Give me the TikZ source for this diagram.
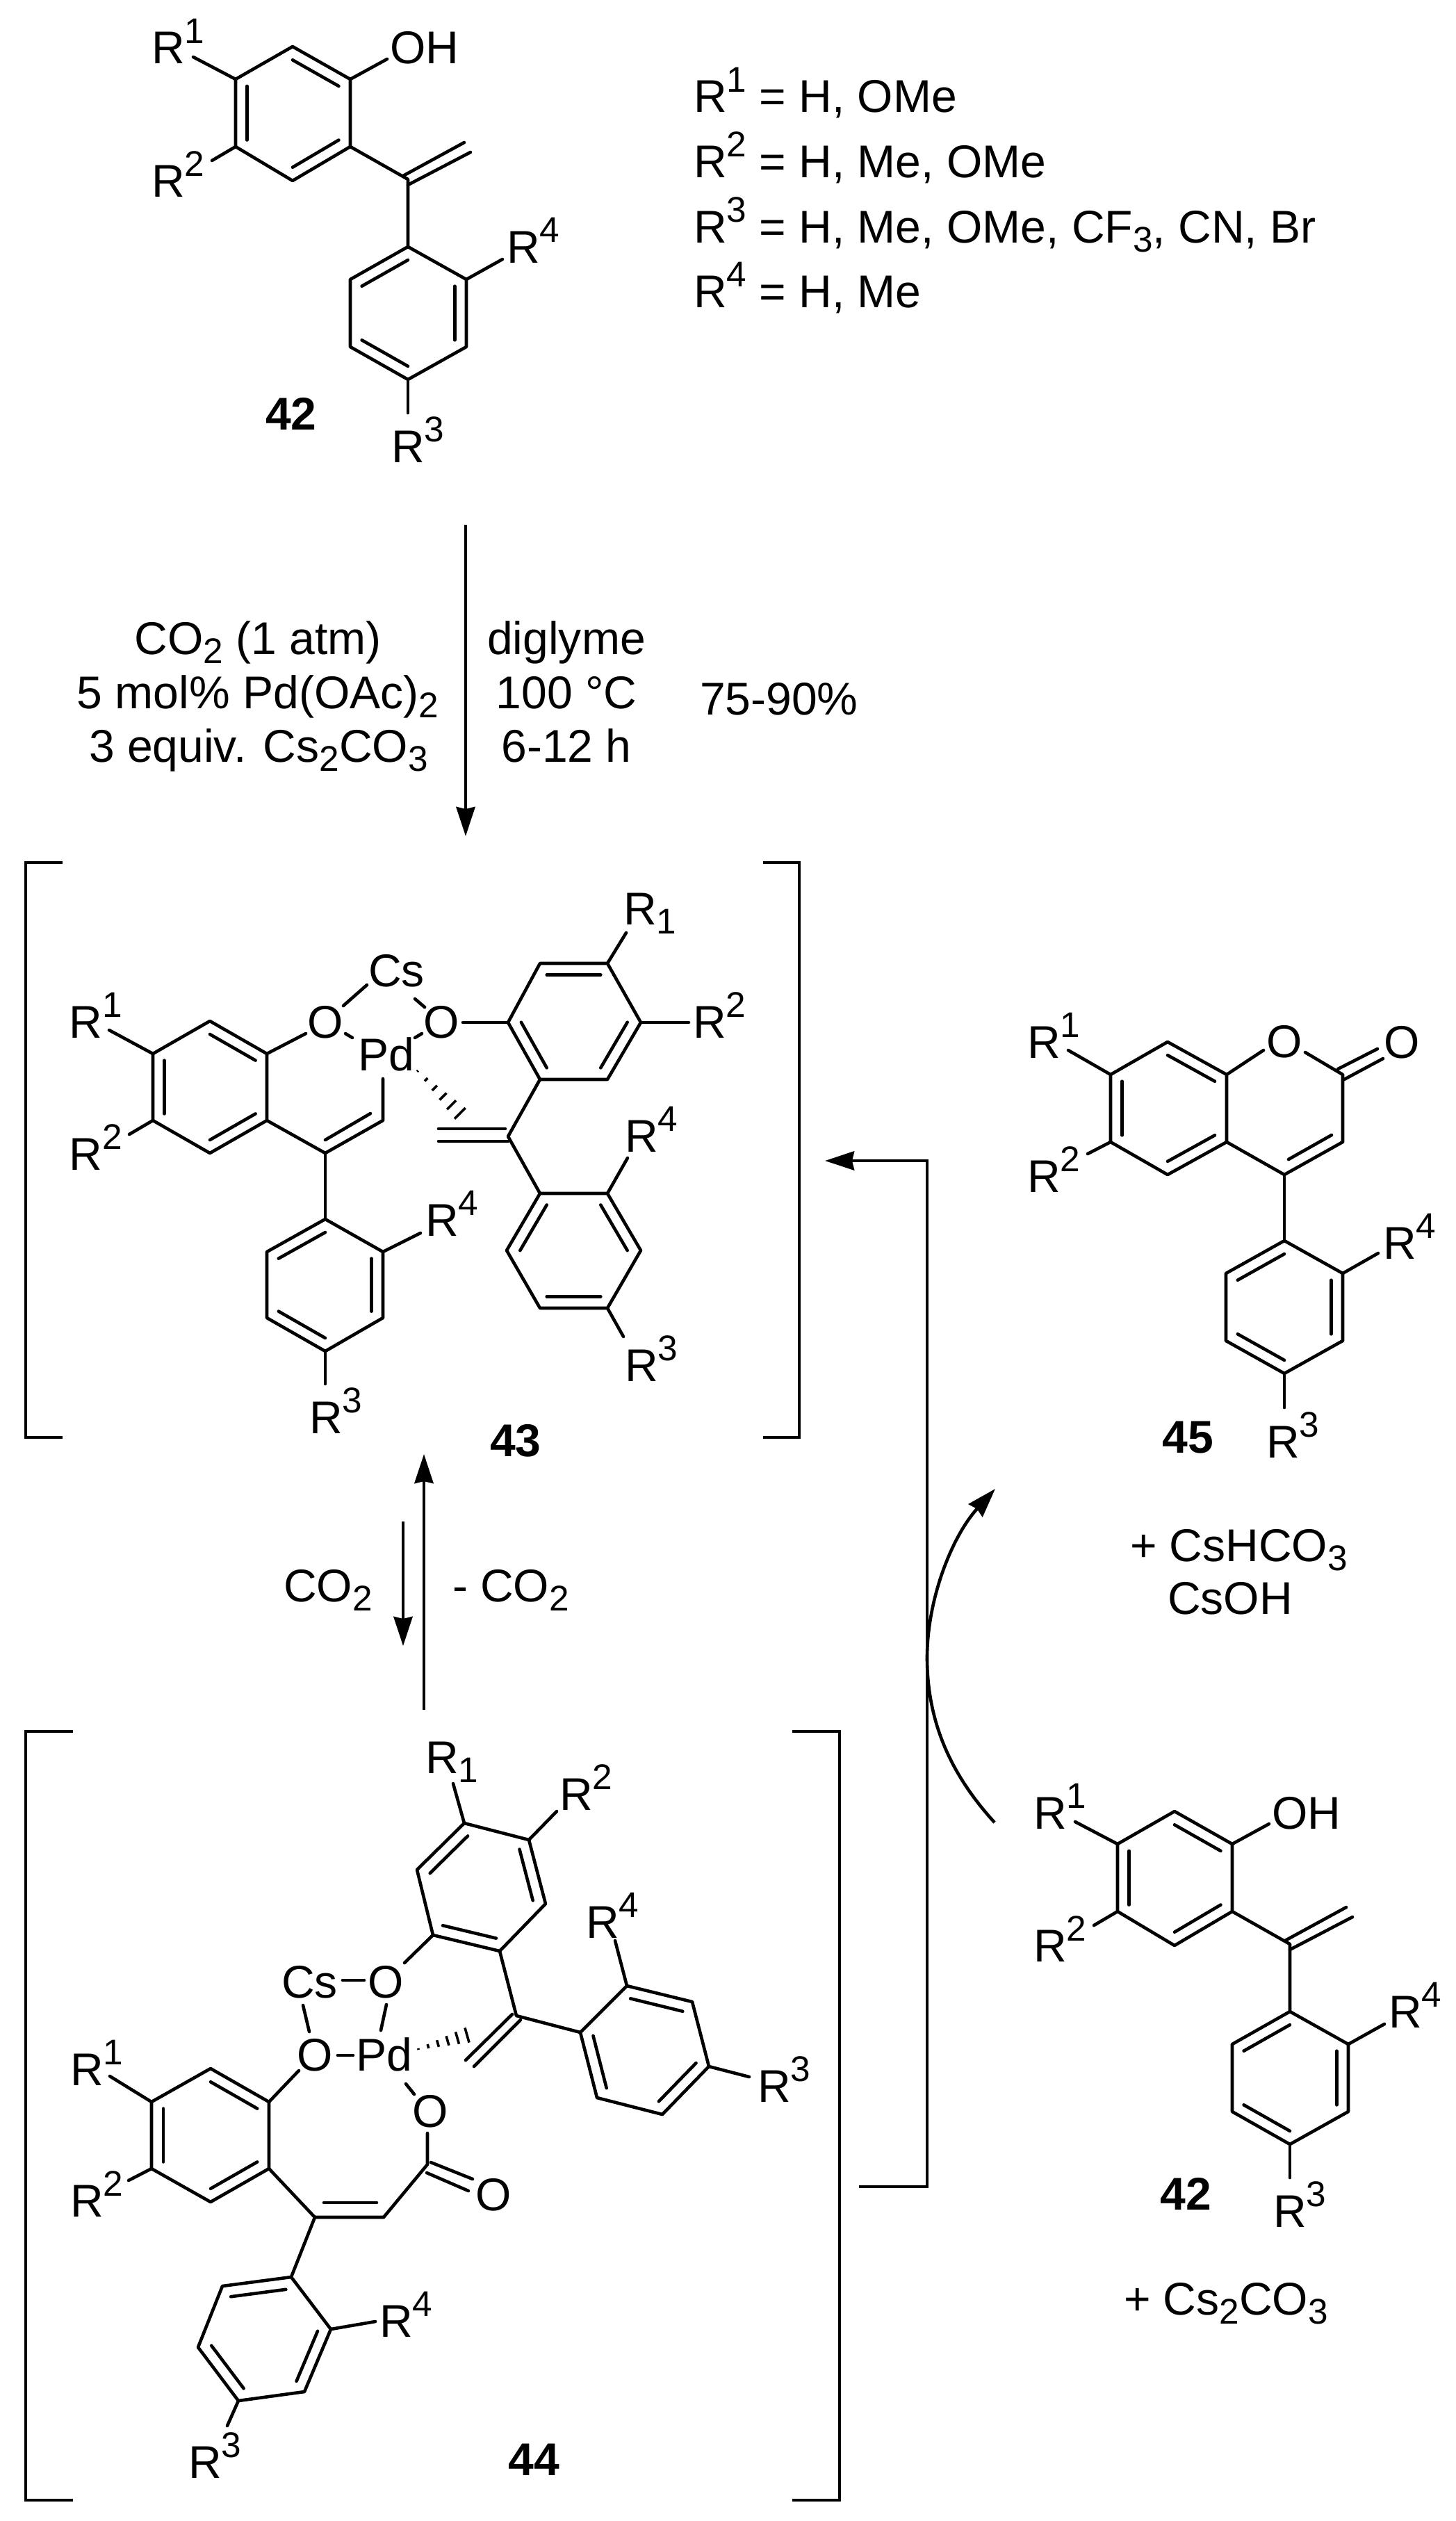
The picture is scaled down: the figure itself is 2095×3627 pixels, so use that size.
\documentclass[tikz,border=0pt]{standalone}
\usepackage{fontspec}
\setmainfont{Liberation Sans}
\usetikzlibrary{calc,arrows.meta}
\newcommand\up[1]{\raisebox{0.45em}{\fontsize{14.6pt}{15pt}\selectfont #1}}
\newcommand\dn[1]{\raisebox{-0.2em}{\fontsize{14.6pt}{15pt}\selectfont #1}}
\tikzset{
  bond/.style={line width=0.046cm,line join=round,line cap=round},
  link/.style={line width=0.046cm,line join=miter},
  arr/.style={line width=0.046cm,-{Stealth[length=0.42cm,width=0.27cm,inset=0.03cm]}},
  txt/.style={inner sep=0pt,outer sep=0pt,font=\fontsize{18.78pt}{22pt}\selectfont},
  lw/.style={txt,anchor=base west},
  lc/.style={txt,anchor=base},
  num/.style={inner sep=0pt,outer sep=0pt,anchor=base,font=\fontsize{18.78pt}{22pt}\selectfont\bfseries},
  hashl/.style={line width=0.036cm}
}
\newcommand\ring[7]{%
  \coordinate (#1a) at (#2);\coordinate (#1b) at (#3);\coordinate (#1c) at (#4);
  \coordinate (#1d) at (#5);\coordinate (#1e) at (#6);\coordinate (#1f) at (#7);
  \coordinate (#1o) at ($(#1a)!0.5!(#1d)$);
  \draw[bond] (#1a)--(#1b)--(#1c)--(#1d)--(#1e)--(#1f)--cycle;}
\newcommand\inr[3]{\draw[bond] ($(#1#2)!0.2!(#1o)$)--($(#1#3)!0.2!(#1o)$);}
\newcommand\hashw[3]{% from, to, max half-width in pt
  \foreach \k in {0,...,6}{%
    \pgfmathsetmacro\tt{\k/6}%
    \pgfmathsetmacro\hh{0.3+#3*\tt}%
    \draw[hashl] ($(#1)!\tt!(#2)!\hh pt!90:(#2)$)--($(#1)!\tt!(#2)!\hh pt!-90:(#2)$);}}
% molecule 42: prefix, dx, dy
\newcommand\molFF[3]{%
 \begin{scope}[shift={(#2,#3)}]
  \ring{#1A}{421,67}{504,114}{504,211}{421,260}{339,211}{339,114}
  \inr{#1A}{a}{b}\inr{#1A}{c}{d}\inr{#1A}{e}{f}
  \ring{#1B}{587,355}{671,402}{671,499}{587,546}{504,499}{504,402}
  \inr{#1B}{a}{f}\inr{#1B}{b}{c}\inr{#1B}{d}{e}
  \coordinate (#1v) at (587,258);
  \coordinate (#1vu) at (580,253);\coordinate (#1vue) at (668,205);
  \coordinate (#1vl) at (587,266);\coordinate (#1vle) at (677,219);
  \draw[bond] (#1Ac)--(#1v)--(#1Ba);
  \draw[bond] (#1vu)--(#1vue);\draw[bond] (#1vl)--(#1vle);
  \node[lw] (#1R1) at (218,92) {R\up{1}};
  \node[lw] (#1R2) at (218,283) {R\up{2}};
  \node[lw] (#1OH) at (561,92) {OH};
  \node[lw] (#1R4) at (729,378) {R\up{4}};
  \node[lw] (#1R3) at (563,665) {R\up{3}};
  \coordinate (#1e1) at (278,82);\coordinate (#1e2) at (305,231);
  \coordinate (#1e3) at (587,594);\coordinate (#1e4) at (723,373);
  \coordinate (#1e5) at (557,85);
  \draw[bond] (#1Af)--(#1e1);\draw[bond] (#1Ae)--(#1e2);
  \draw[bond] (#1Bd)--(#1e3);\draw[bond] (#1Bb)--(#1e4);
  \draw[bond] (#1Ab)--(#1e5);
 \end{scope}}
\begin{document}
\begin{tikzpicture}[x=0.01cm,y=-0.01cm]
\useasboundingbox (0,0) rectangle (2095,3627);
% ---- top 42
\molFF{t}{0}{0}
\node[num] (n42t) at (419,618) {42};
\node[lw] (l1) at (998,162) {R\up{1} = H, OMe};
\node[lw] (l2) at (998,255) {R\up{2} = H, Me, OMe};
\node[lw] (l3) at (998,349) {R\up{3} = H, Me, OMe, CF\dn{3}, CN, Br};
\node[lw] (l4) at (998,442) {R\up{4} = H, Me};
% ---- reaction arrow
\coordinate (a1s) at (670,755);\coordinate (a1e) at (670,1203);
\draw[arr] (a1s)--(a1e);
\node[lc] (c1) at (371,941) {CO\dn{2} (1 atm)};
\node[lc] (c2) at (371,1019) {5 mol\% Pd(OAc)\dn{2}};
\node[lc] (c3) at (372,1096) {3 equiv. Cs\dn{2}CO\dn{3}};
\node[lc] (c4) at (815,941) {diglyme};
\node[lc] (c5) at (815,1019) {100 °C};
\node[lc] (c6) at (815,1096) {6-12 h};
\node[lw] (c7) at (1007,1028) {75-90\%};
% ---- 43 brackets
\coordinate (b1a) at (90,1241);\coordinate (b1b) at (37,1241);\coordinate (b1c) at (37,2068);\coordinate (b1d) at (90,2068);
\coordinate (b2a) at (1098,1241);\coordinate (b2b) at (1150,1241);\coordinate (b2c) at (1150,2068);\coordinate (b2d) at (1098,2068);
\draw[link] (b1a)--(b1b)--(b1c)--(b1d);
\draw[link] (b2a)--(b2b)--(b2c)--(b2d);
% ---- 43
\ring{pA}{302,1469}{384,1516}{384,1612}{302,1659}{220,1612}{220,1516}
\inr{pA}{a}{b}\inr{pA}{c}{d}\inr{pA}{e}{f}
\ring{pB}{777,1386}{874,1386}{922,1471}{874,1553}{777,1553}{731,1471}
\inr{pB}{a}{b}\inr{pB}{c}{d}\inr{pB}{e}{f}
\ring{pC}{468,1754}{551,1801}{551,1896}{468,1944}{384,1896}{384,1801}
\inr{pC}{a}{f}\inr{pC}{b}{c}\inr{pC}{d}{e}
\ring{pD}{777,1717}{874,1717}{922,1799}{874,1882}{777,1882}{729,1799}
\inr{pD}{a}{f}\inr{pD}{b}{c}\inr{pD}{d}{e}
\node[lw] (pR1) at (100,1493) {R\up{1}};
\node[lw] (pR2) at (100,1683) {R\up{2}};
\node[lc] (pO1) at (468,1493) {O};
\node[lw] (pCs) at (530,1419) {Cs};
\node[lw] (pPd) at (515,1540) {Pd};
\node[lc] (pO2) at (635,1493) {O};
\node[lw] (pR1b) at (897,1330) {R\dn{1}};
\node[lw] (pR2b) at (997,1493) {R\up{2}};
\node[lw] (pR4) at (612,1778) {R\up{4}};
\node[lw] (pR3) at (445,2062) {R\up{3}};
\node[lw] (pR4b) at (899,1657) {R\up{4}};
\node[lw] (pR3b) at (899,1987) {R\up{3}};
\node[num] (n43) at (742,2095) {43};
\draw[bond] (pAf)--(157,1482);
\draw[bond] (pAe)--(186,1632);
\draw[bond] (pAb)--(440,1487);
\draw[bond] (494,1447)--(528,1417);
\draw[bond] (497,1487)--(507,1493);
\draw[bond] (597,1437)--(611,1449);
\draw[bond] (607,1487)--(597,1493);
\draw[bond] (666,1471)--(pBf);
\draw[bond] (pBb)--(901,1342);
\draw[bond] (pBc)--(991,1471);
\coordinate (pv) at (731,1635);
\draw[bond] (pBe)--(pv)--(pDa);
\draw[bond] (631,1624)--(727,1624);
\draw[bond] (631,1642)--(731,1642);
\coordinate (pw) at (468,1659);\coordinate (pu) at (551,1612);
\draw[bond] (551,1552)--(pu)--(pw)--(pAc);
\draw[bond] (pw)--(pCa);
\draw[bond] (533,1602)--(468,1640);
\coordinate (ph1) at (601,1541);\coordinate (ph2) at (674,1614);
\hashw{ph1}{ph2}{3.4}
\draw[bond] (pCb)--(605,1774);
\draw[bond] (pCd)--(468,1991);
\draw[bond] (pDb)--(903,1666);
\draw[bond] (pDd)--(897,1923);
% ---- equilibrium
\coordinate (e1s) at (610,2460);\coordinate (e1e) at (610,2092);
\coordinate (e2s) at (580,2189);\coordinate (e2e) at (580,2368);
\draw[arr] (e1s)--(e1e);
\draw[arr] (e2s)--(e2e);
\node[lw] (q1) at (408,2304) {CO\dn{2}};
\node[lw] (q2) at (651,2304) {- CO\dn{2}};
% ---- 44 brackets
\coordinate (b3a) at (105,2491);\coordinate (b3b) at (37,2491);\coordinate (b3c) at (37,3597);\coordinate (b3d) at (105,3597);
\coordinate (b4a) at (1140,2491);\coordinate (b4b) at (1208,2491);\coordinate (b4c) at (1208,3597);\coordinate (b4d) at (1140,3597);
\draw[link] (b3a)--(b3b)--(b3c)--(b3d);
\draw[link] (b4a)--(b4b)--(b4c)--(b4d);
% ---- 44
\ring{sA}{668,2623}{761,2647}{785,2739}{719,2807}{623,2784}{600,2690}
\inr{sA}{a}{f}\inr{sA}{b}{c}\inr{sA}{d}{e}
\ring{sB}{303,2976}{387,3024}{387,3120}{303,3168}{218,3120}{218,3024}
\inr{sB}{a}{b}\inr{sB}{c}{d}\inr{sB}{e}{f}
\ring{sC}{835,2924}{902,2857}{996,2880}{1020,2973}{953,3042}{859,3018}
\inr{sC}{a}{f}\inr{sC}{b}{c}\inr{sC}{d}{e}
\ring{sD}{419,3276}{476,3351}{438,3441}{343,3454}{285,3377}{320,3289}
\inr{sD}{a}{f}\inr{sD}{b}{c}\inr{sD}{d}{e}
\node[lw] (sR1) at (612,2551) {R\dn{1}};
\node[lw] (sR2) at (805,2604) {R\up{2}};
\node[lc] (sO1) at (555,2874) {O};
\node[lw] (sCs) at (405,2874) {Cs};
\node[lc] (sO2) at (453,2979) {O};
\node[lw] (sPd) at (512,2979) {Pd};
\node[lc] (sO3) at (619,3060) {O};
\node[lw] (sO4) at (684,3180) {O};
\node[lw] (sR1b) at (101,3000) {R\up{1}};
\node[lw] (sR2b) at (101,3189) {R\up{2}};
\node[lw] (sR4) at (843,2788) {R\up{4}};
\node[lw] (sR3) at (1090,3024) {R\up{3}};
\node[lw] (sR4b) at (546,3362) {R\up{4}};
\node[lw] (sR3b) at (271,3565) {R\up{3}};
\node[num] (n44) at (768,3561) {44};
\draw[bond] (sAa)--(652,2566);
\draw[bond] (sAb)--(801,2606);
\draw[bond] (sAe)--(582,2824);
\draw[bond] (493,2849)--(524,2849);
\draw[bond] (556,2884)--(548,2921);
\draw[bond] (436,2885)--(445,2923);
\draw[bond] (486,2957)--(508,2957);
\draw[bond] (sBb)--(430,2979);
\draw[bond] (sBf)--(158,2987);
\draw[bond] (sBe)--(185,3137);
\coordinate (sx) at (453,3190);\coordinate (sy) at (552,3190);\coordinate (sz) at (615,3114);
\draw[bond] (sBc)--(sx)--(sy)--(sz)--(615,3069);
\draw[bond] (466,3169)--(542,3169);
\draw[bond] (620,3111)--(680,3135);
\draw[bond] (614,3126)--(674,3152);
\draw[bond] (596,3013)--(584,2998);
\coordinate (sh1) at (602,2948);\coordinate (sh2) at (686,2924);
\hashw{sh1}{sh2}{3.4}
\coordinate (sv) at (743,2900);
\draw[bond] (sAd)--(sv)--(sCa);
\draw[bond] (670,2964)--(737,2898);
\draw[bond] (682,2973)--(749,2906);
\draw[bond] (sCb)--(885,2792);
\draw[bond] (sCd)--(1078,2988);
\draw[bond] (sx)--(sDa);
\draw[bond] (sDb)--(540,3340);
\draw[bond] (sDd)--(327,3490);
% ---- 45
\ring{cA}{1680,1499}{1765,1546}{1765,1643}{1680,1690}{1598,1643}{1598,1546}
\inr{cA}{a}{b}\inr{cA}{c}{d}\inr{cA}{e}{f}
\ring{cB}{1848,1785}{1932,1832}{1932,1929}{1848,1976}{1764,1929}{1764,1832}
\inr{cB}{a}{f}\inr{cB}{b}{c}\inr{cB}{d}{e}
\node[lc] (cO1) at (1848,1521) {O};
\node[lw] (cO2) at (1991,1522) {O};
\node[lw] (cR1) at (1478,1522) {R\up{1}};
\node[lw] (cR2) at (1478,1715) {R\up{2}};
\node[lw] (cR4) at (1990,1811) {R\up{4}};
\node[lw] (cR3) at (1822,2097) {R\up{3}};
\node[num] (n45) at (1709,2090) {45};
\node[lw] (cp1) at (1626,2246) {+ CsHCO\dn{3}};
\node[lw] (cp2) at (1680,2322) {CsOH};
\coordinate (cc) at (1932,1546);\coordinate (cd) at (1932,1643);\coordinate (ce) at (1848,1690);
\draw[bond] (cAb)--(1818,1511);
\draw[bond] (1878,1514)--(cc)--(cd)--(ce)--(cAc);
\draw[bond] (ce)--(cBa);
\draw[bond] (1916,1633)--(1854,1668);
\draw[bond] (1925,1538)--(1982,1509);
\draw[bond] (1934,1553)--(1990,1523);
\draw[bond] (cAf)--(1537,1511);
\draw[bond] (cAe)--(1565,1660);
\draw[bond] (cBb)--(1983,1803);
\draw[bond] (cBd)--(1848,2025);
% ---- second 42
\molFF{u}{1269}{2539}
\node[num] (n42u) at (1706,3179) {42};
\node[lw] (up1) at (1617,3330) {+ Cs\dn{2}CO\dn{3}};
% ---- cycle arrows
\coordinate (f1) at (1236,3146);\coordinate (f2) at (1334,3146);\coordinate (f3) at (1334,1670);\coordinate (f4) at (1187,1670);
\draw[arr,line join=miter] (f1)--(f2)--(f3)--(f4);
\coordinate (g1) at (1431,2622);\coordinate (g2) at (1334,2385);\coordinate (g3) at (1432,2142);
\draw[arr] (g1) .. controls (1370,2555) and (1334,2480) .. (g2) .. controls (1334,2300) and (1370,2210) .. (g3);
\end{tikzpicture}
\end{document}
